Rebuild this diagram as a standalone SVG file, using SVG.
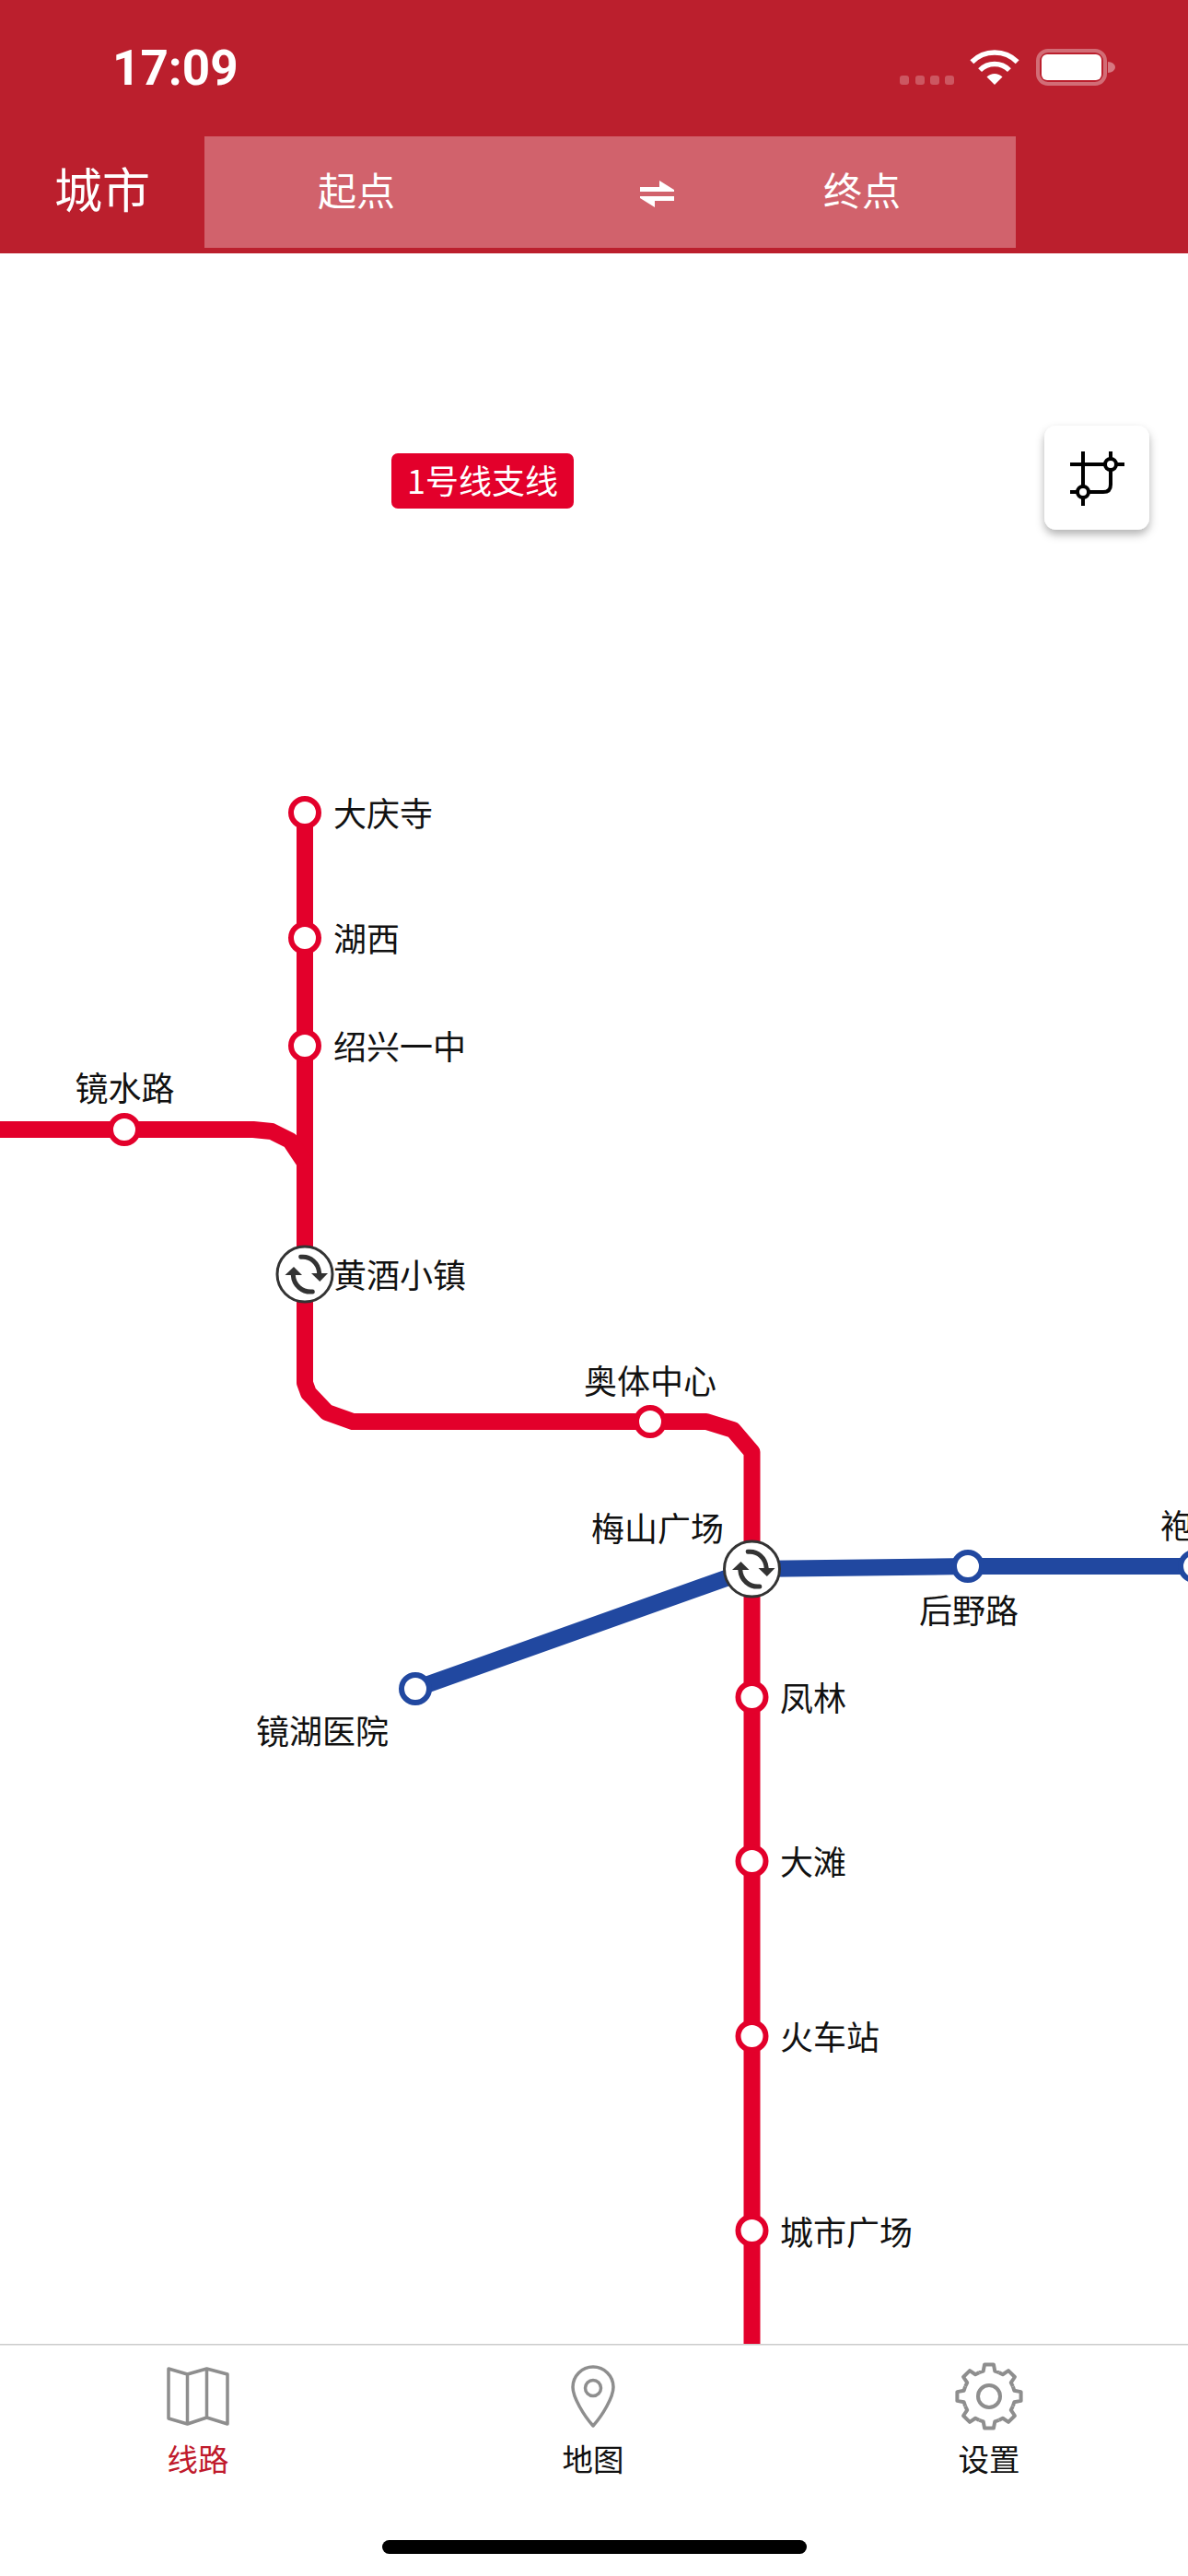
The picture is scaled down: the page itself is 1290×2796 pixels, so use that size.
<svg xmlns="http://www.w3.org/2000/svg" xmlns:xlink="http://www.w3.org/1999/xlink" width="1290" height="2796" viewBox="0 0 1290 2796">
<style>
text{font-family:"Noto Sans CJK SC","Noto Sans",sans-serif}
.lab{font-size:36px;fill:#111}
.m{text-anchor:middle}
.hd{font-size:42px;fill:#fff;text-anchor:middle}
.tab{font-size:33.500px;text-anchor:middle;fill:#111}
.red,.blue{fill:none;stroke-width:18;stroke-linejoin:round}
.red{stroke:#e3002b}
.blue{stroke:#2148a0}
.st{fill:#fff;stroke-width:6}
.sr{stroke:#e3002b}
.sb{stroke:#2148a0}
.ic{fill:none;stroke:#8e8e8e;stroke-width:3.5;stroke-linejoin:round}
.cr{fill:none;stroke:#000;stroke-width:4}
</style>
<defs>
<filter id="sh" x="-30%" y="-30%" width="160%" height="160%"><feDropShadow dx="0" dy="5" stdDeviation="5" flood-color="#000" flood-opacity=".3"/></filter>
<g id="swapSt">
<circle r="30" fill="#fff" stroke="#333" stroke-width="3"/>
<path d="M-4.3-18.7C6-20 15-12 15.7-1" fill="none" stroke="#333" stroke-width="5" stroke-linecap="round"/>
<path d="M7-1H25L16.3 8Z" fill="#333"/>
<path d="M8.3 19C-3 20-12 12-12.7 1" fill="none" stroke="#333" stroke-width="5" stroke-linecap="round"/>
<path d="M-21.5 1H-3L-12-8Z" fill="#333"/>
</g>
<path id="tooth" d="M-10.7-25.9L-6.3-27.3L-4.9-34.6H4.9L6.3-27.3L10.7-25.9" fill="none" stroke="#8e8e8e" stroke-width="4" stroke-linejoin="round"/>
</defs>
<rect width="1290" height="2796" fill="#fff"/>

<g id="connectors">
<path class="red" d="M331 882V1383"/>
<path class="red" d="M0 1226H275L295 1228L315 1238L331 1262"/>
<path class="red" d="M331 1383V1501L335 1512L355 1533L383 1543H767L796 1552L816.500 1576V2544"/>
<path class="blue" d="M451 1833L816.500 1703L1051 1700H1297"/>
</g>

<g id="header">
<rect width="1290" height="275" fill="#bb1f2d"/>
<text x="122" y="92" style="font-family:Roboto,sans-serif;font-weight:700;font-size:53px" fill="#fff">17:09</text>
<g fill="#fff" fill-opacity=".25"><rect x="977" y="82" width="10" height="10" rx="3"/><rect x="994" y="82" width="10" height="10" rx="3"/><rect x="1010" y="82" width="10" height="10" rx="3"/><rect x="1026" y="82" width="10" height="10" rx="3"/></g>
<path d="M1055.300 67.300A35 35 0 0 1 1104.700 67.300M1064.100 76.100A22.500 22.500 0 0 1 1095.900 76.100" fill="none" stroke="#fff" stroke-width="5.500"/>
<path d="M1080 92L1071.500 83.500A12 12 0 0 1 1088.500 83.500Z" fill="#fff"/>
<rect x="1127" y="55" width="73" height="36" rx="11" fill="none" stroke="#fff" stroke-opacity=".35" stroke-width="4"/>
<rect x="1131" y="59" width="65" height="28" rx="6" fill="#fff"/>
<path d="M1203 67A8 6 0 0 1 1203 79Z" fill="#fff" fill-opacity=".4"/>
<text x="111" y="226" font-size="52" fill="#fff" text-anchor="middle">城市</text>
<rect x="222" y="148" width="881" height="121" fill="#d1626c"/>
<text class="hd" x="387" y="223">起点</text>
<text class="hd" x="936" y="223">终点</text>
<path d="M695 203H716V196L732 206V208H695ZM732 218H711V225L695 215V213H732Z" fill="#fff"/>
</g>

<g id="line-tag"><rect x="425" y="492" width="198" height="60" rx="7" fill="#e3002b"/><text x="524" y="536" font-size="36" fill="#fff" text-anchor="middle">1号线支线</text></g>

<g id="crop-button">
<rect x="1134" y="462" width="114" height="113" rx="13" fill="#fff" filter="url(#sh)"/>
<path class="cr" d="M1162 504H1221M1176 490V549M1162 534H1198Q1206 534 1206 526V490"/>
<circle cx="1206" cy="504" r="6" fill="#fff" stroke="#000" stroke-width="4"/>
<circle cx="1176" cy="534" r="6" fill="#fff" stroke="#000" stroke-width="4"/>
</g>

<g id="st-daqingsi"><circle class="st sr" cx="331" cy="882" r="15"/><text class="lab" x="362" y="897">大庆寺</text></g>
<g id="st-huxi"><circle class="st sr" cx="331" cy="1018" r="15"/><text class="lab" x="362" y="1033">湖西</text></g>
<g id="st-shaoxing1"><circle class="st sr" cx="331" cy="1135" r="15"/><text class="lab" x="362" y="1150">绍兴一中</text></g>
<g id="st-jingshui"><circle class="st sr" cx="135" cy="1226" r="15"/><text class="lab m" x="135.500" y="1195">镜水路</text></g>
<g id="st-huangjiu"><use xlink:href="#swapSt" href="#swapSt" x="331" y="1383"/><text class="lab" x="362" y="1398">黄酒小镇</text></g>
<g id="st-aoti"><circle class="st sr" cx="706" cy="1543" r="15"/><text class="lab m" x="706" y="1513">奥体中心</text></g>
<g id="st-meishan"><use xlink:href="#swapSt" href="#swapSt" x="816.500" y="1703"/><text class="lab" x="642" y="1673">梅山广场</text></g>
<g id="st-houye"><circle class="st sb" cx="1051" cy="1700" r="15"/><text class="lab m" x="1052" y="1762">后野路</text></g>
<g id="st-pao"><circle class="st sb" cx="1297" cy="1700" r="15"/><text class="lab" x="1260" y="1670">袍</text></g>
<g id="st-jinghu"><circle class="st sb" cx="451" cy="1833" r="15"/><text class="lab m" x="350" y="1893">镜湖医院</text></g>
<g id="st-fenglin"><circle class="st sr" cx="816.500" cy="1842" r="15"/><text class="lab" x="847" y="1857">凤林</text></g>
<g id="st-datan"><circle class="st sr" cx="816.500" cy="2020" r="15"/><text class="lab" x="847" y="2035">大滩</text></g>
<g id="st-huochezhan"><circle class="st sr" cx="816.500" cy="2210" r="15"/><text class="lab" x="847" y="2225">火车站</text></g>
<g id="st-chengshi"><circle class="st sr" cx="816.500" cy="2421" r="15"/><text class="lab" x="847" y="2437">城市广场</text></g>

<g id="tabbar">
<rect y="2544" width="1290" height="252" fill="#fff"/>
<rect y="2544" width="1290" height="1.500" fill="#ccc"/>
<path class="ic" d="M183 2571L203.500 2577L224.500 2571L247 2577V2631L224.500 2624L203.500 2631L183 2625ZM203.500 2577V2631M224.500 2571V2624"/>
<text class="tab" x="215" y="2682" style="fill:#c01a2c">线路</text>
<path class="ic" d="M644 2633C634 2622 622 2602 622 2591A22 22 0 0 1 666 2591C666 2602 654 2622 644 2633Z"/>
<circle class="ic" cx="644" cy="2592" r="8.500"/>
<text class="tab" x="644" y="2682">地图</text>
<g transform="translate(1074 2601)">
<use href="#tooth" xlink:href="#tooth"/><use href="#tooth" xlink:href="#tooth" transform="rotate(45)"/><use href="#tooth" xlink:href="#tooth" transform="rotate(90)"/><use href="#tooth" xlink:href="#tooth" transform="rotate(135)"/><use href="#tooth" xlink:href="#tooth" transform="rotate(180)"/><use href="#tooth" xlink:href="#tooth" transform="rotate(225)"/><use href="#tooth" xlink:href="#tooth" transform="rotate(270)"/><use href="#tooth" xlink:href="#tooth" transform="rotate(315)"/>
<circle r="12" fill="none" stroke="#8e8e8e" stroke-width="4"/>
</g>
<text class="tab" x="1074" y="2682">设置</text>
<rect x="415" y="2757" width="461" height="15" rx="7.500" fill="#000"/>
</g>
</svg>
